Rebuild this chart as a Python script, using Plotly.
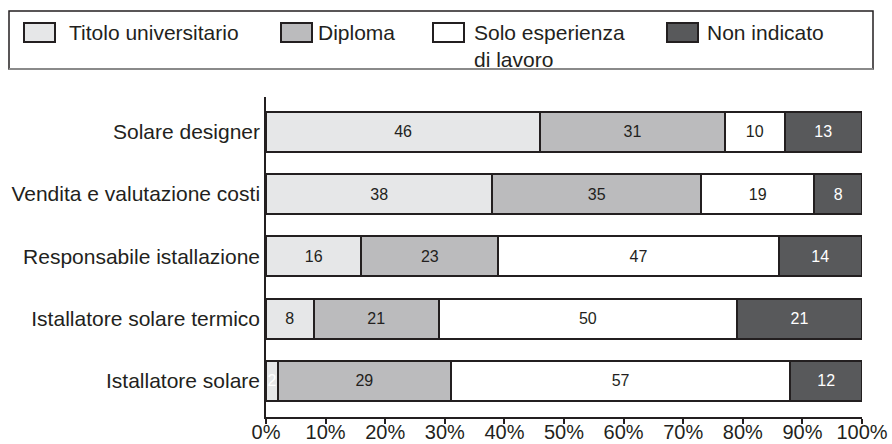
import plotly.graph_objects as go

# Job profiles (top to bottom) and the share of each qualification level (%)
categories = [
    "Solare designer",
    "Vendita e valutazione costi",
    "Responsabile istallazione",
    "Istallatore solare termico",
    "Istallatore solare",
]
series_names = ["Titolo universitario", "Diploma", "Solo esperienza<br>di lavoro", "Non indicato"]
titolo = [46, 38, 16, 8, 2]
diploma = [31, 35, 23, 21, 29]
solo_esperienza = [10, 19, 47, 50, 57]
non_indicato = [13, 8, 14, 21, 12]

series_values = [titolo, diploma, solo_esperienza, non_indicato]
fill_colors = ["#e6e7e8", "#bbbbbd", "#ffffff", "#58595b"]
label_colors = ["#231f20", "#231f20", "#231f20", "#ffffff"]
INK = "#231f20"
FONT = "Liberation Sans, Arial, sans-serif"

# Plot area in pixels
W, H = 892, 444
L, R, T, B = 266, 30, 97, 27
PW, PH = W - L - R, H - T - B


def px_x(x):
    return (x - L) / PW


def px_y(y):
    return (H - B - y) / PH


fig = go.Figure()
for name, vals, fc, tc in zip(series_names, series_values, fill_colors, label_colors):
    # very thin segments get a white label, as printed
    colors = [tc if v >= 5 else "#ffffff" for v in vals]
    fig.add_trace(go.Bar(
        y=categories, x=vals, orientation="h", name=name,
        marker=dict(color=fc, line=dict(color=INK, width=2)),
        text=[str(v) for v in vals], textposition="inside",
        insidetextanchor="middle", constraintext="none",
        textfont=dict(family=FONT, size=16, color=colors),
        showlegend=False, hoverinfo="skip",
    ))

# Legend drawn as a framed box with swatches
shapes = [
    dict(type="rect", xref="paper", yref="paper",
         x0=px_x(9), x1=px_x(873), y0=px_y(69), y1=px_y(11),
         line=dict(color=INK, width=1.5), fillcolor="rgba(0,0,0,0)", layer="above"),
    dict(type="line", xref="paper", yref="paper",
         x0=px_x(9), x1=px_x(873), y0=px_y(69), y1=px_y(69),
         line=dict(color="#8a8a8a", width=2), layer="above"),
]
annotations = []
legend_x = [24, 281, 433, 667]
text_x = [67, 316, 472, 705]
for sx, tx, name, fc in zip(legend_x, text_x, series_names, fill_colors):
    shapes.append(dict(type="rect", xref="paper", yref="paper",
                       x0=px_x(sx), x1=px_x(sx + 31), y0=px_y(42), y1=px_y(23),
                       line=dict(color=INK, width=2), fillcolor=fc, layer="above"))
    annotations.append(dict(xref="paper", yref="paper", x=px_x(tx), y=px_y(19),
                            xanchor="left", yanchor="top", align="left",
                            text=name, showarrow=False,
                            font=dict(family=FONT, size=21, color=INK)))

fig.update_layout(
    template="none",
    barmode="stack", bargap=0.36,
    width=W, height=H,
    margin=dict(l=L, r=R, t=T, b=B, pad=0),
    paper_bgcolor="white", plot_bgcolor="white",
    font=dict(family=FONT, color=INK),
    shapes=shapes, annotations=annotations,
    xaxis=dict(range=[0, 100], dtick=10, tick0=0, ticksuffix="%",
               automargin=False,
               showgrid=False, zeroline=False, showline=True,
               linecolor=INK, linewidth=1.5, ticks="outside", ticklen=5,
               tickwidth=1.5, tickcolor=INK, ticklabelstandoff=-9,
               tickfont=dict(family=FONT, size=20, color=INK)),
    yaxis=dict(categoryorder="array", categoryarray=categories,
               range=[4.58, -0.56], automargin=False,
               showgrid=False, zeroline=False,
               showline=True, linecolor=INK, linewidth=1.5, ticks="",
               ticklabelstandoff=0,
               tickfont=dict(family=FONT, size=21, color=INK)),
)

fig.write_html("out.html")
